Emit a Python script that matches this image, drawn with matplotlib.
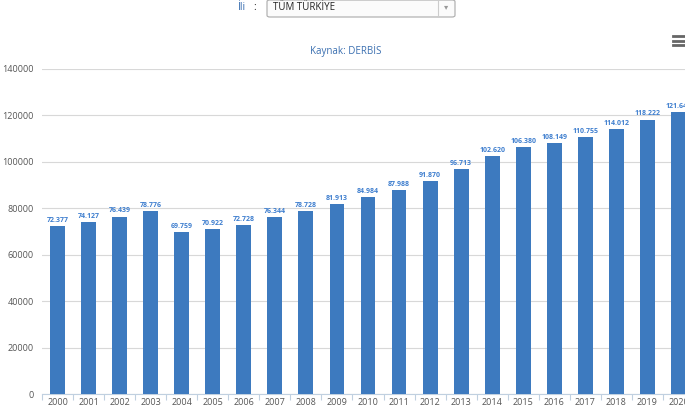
import matplotlib
matplotlib.use("Agg")
import matplotlib.pyplot as plt
from matplotlib.patches import FancyBboxPatch

years = [str(y) for y in range(2000, 2021)]
values = [72377, 74127, 76439, 78776, 69759, 70922, 72728, 76344, 78728, 81913,
          84984, 87988, 91870, 96713, 102620, 106380, 108149, 110755, 114012, 118222, 121646]
labels = ["72.377", "74.127", "76.439", "78.776", "69.759", "70.922", "72.728", "76.344",
          "78.728", "81.913", "84.984", "87.988", "91.870", "96.713", "102.620", "106.380",
          "108.149", "110.755", "114.012", "118.222", "121.646"]
yticks = [0, 20000, 40000, 60000, 80000, 100000, 120000, 140000]

W, H = 685, 412
fig = plt.figure(figsize=(W/100, H/100), dpi=100)
plt.rcParams['font.family'] = ['Open Sans', 'DejaVu Sans']

ax = fig.add_axes([42/W, 18/H, (694-42)/W, (394-69)/H])
x = list(range(len(years)))
ax.bar(x, values, width=0.48, color='#3d7abf', zorder=3)
ax.set_xlim(-0.5, len(years) - 0.5)
ax.set_ylim(0, 140000)
ax.set_yticks(yticks)
ax.set_yticklabels([str(v) for v in yticks], fontsize=6.5, color='#555555')
ax.set_xticks(x)
ax.set_xticklabels(years, fontsize=6.5, color='#555555')
ax.grid(axis='y', color='#d8d8d8', linewidth=0.8, zorder=0)
for s in ['top', 'right', 'left']:
    ax.spines[s].set_visible(False)
ax.spines['bottom'].set_color('#c0d0e0')
ax.tick_params(axis='y', length=0, pad=6)
ax.tick_params(axis='x', length=0, pad=3)
ax.set_xticks([i - 0.5 for i in range(len(years) + 1)], minor=True)
ax.tick_params(axis='x', which='minor', length=4, color='#c0d0e0', width=0.8)

for xi, v, lab in zip(x, values, labels):
    ax.text(xi, v + 900, lab, ha='center', va='bottom', fontsize=5, fontweight='bold',
            color='#3f7fcf', zorder=4)

# title
fig.text(346/W, 1 - 51/H, "Kaynak: DERBİS", ha='center', va='center', fontsize=7, color='#3a6fb0')

# top selector
fig.text(241/W, 1 - 8/H, "İli", ha='center', va='center', fontsize=7.5, color='#3a6fb0')
fig.text(255/W, 1 - 8/H, ":", ha='center', va='center', fontsize=7.5, color='#333333')
box = FancyBboxPatch((267/W, 1 - 17/H), (455-267)/W, 17/H, boxstyle="round,pad=0,rounding_size=0.004",
                     transform=fig.transFigure, facecolor='#fbfbfb', edgecolor='#aaaaaa', linewidth=0.8)
fig.patches.append(box)
fig.add_artist(plt.Line2D([438/W, 438/W], [1 - 16/H, 1 - 1/H], transform=fig.transFigure,
                          color='#cccccc', linewidth=0.8))
fig.text(446/W, 1 - 8/H, "▾", ha='center', va='center', fontsize=6, color='#999999')
fig.text(273/W, 1 - 8/H, "TÜM TÜRKİYE", ha='left', va='center', fontsize=7, color='#222222')

# hamburger icon
for dy in (36, 40.5, 45):
    fig.add_artist(plt.Line2D([673/W, 685/W], [1 - dy/H, 1 - dy/H], transform=fig.transFigure,
                              color='#666666', linewidth=2))

fig.savefig("out.png", dpi=100)
